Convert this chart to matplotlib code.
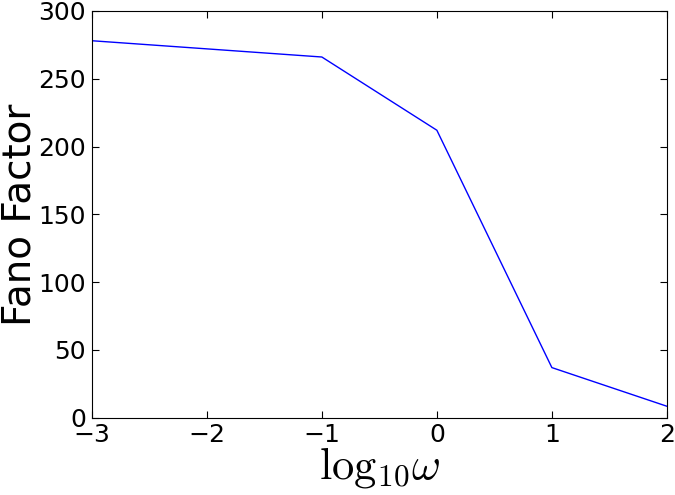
import numpy as np
import matplotlib
matplotlib.use('Agg')
import matplotlib.pyplot as plt

plt.rcParams['mathtext.fontset'] = 'cm'

log_omega = [-3, -1, 0, 1, 2]
fano = [278, 266, 212, 37, 8.5]

fig = plt.figure(figsize=(6.75, 4.95), dpi=100)
ax = fig.add_axes([0.136, 0.156, 0.852, 0.822])
ax.plot(log_omega, fano, color='b', lw=1)
ax.set_xlim(-3, 2)
ax.set_ylim(0, 300)
ax.set_xticks([-3, -2, -1, 0, 1, 2])
ax.set_yticks([0, 50, 100, 150, 200, 250, 300])
ax.tick_params(direction='in', top=True, right=True, labelsize=18, length=5, pad=4)
ax.set_xlabel(r'$\log_{10}\!\omega$', fontsize=32, labelpad=-2)
ax.set_ylabel('Fano Factor', fontsize=28)
ax.yaxis.set_label_coords(-0.092, 0.5)
fig.savefig('out.png', dpi=100)
